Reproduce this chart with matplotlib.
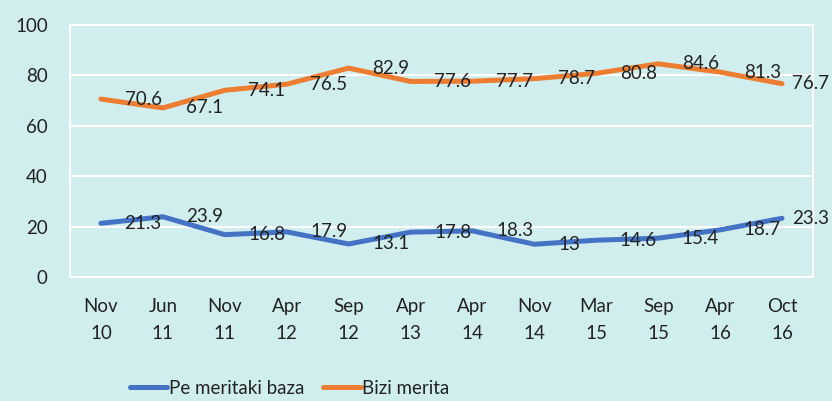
import matplotlib
matplotlib.use("Agg")
import matplotlib.pyplot as plt

categories = ["Nov\n10", "Jun\n11", "Nov\n11", "Apr\n12", "Sep\n12", "Apr\n13", "Apr\n14",
              "Nov\n14", "Mar\n15", "Sep\n15", "Apr\n16", "Oct\n16"]
pe_meritaki = [21.3, 23.9, 16.8, 17.9, 13.1, 17.8, 18.3, 13, 14.6, 15.4, 18.7, 23.3]
bizi_merita = [70.6, 67.1, 74.1, 76.5, 82.9, 77.6, 77.7, 78.7, 80.8, 84.6, 81.3, 76.7]
yticks = [0, 20, 40, 60, 80, 100]

plt.rcParams['font.family'] = ['Lato', 'DejaVu Sans']
bg = '#d1eeee'
blue = '#4472C4'
orange = '#ED7D31'
txt = '#222222'
fs = 13.5

fig = plt.figure(figsize=(8.32, 4.01), dpi=100, facecolor=bg)
ax = fig.add_axes([70/832, 1-277/401, (813-70)/832, (277-25)/401])
ax.set_facecolor(bg)

x = list(range(len(categories)))
l1, = ax.plot(x, pe_meritaki, color=blue, lw=3.6, solid_capstyle='round', label='Pe meritaki baza', zorder=3)
l2, = ax.plot(x, bizi_merita, color=orange, lw=3.6, solid_capstyle='round', label='Bizi merita', zorder=3)

n = len(categories)
for series in (pe_meritaki, bizi_merita):
    for xi, v in zip(x, series):
        off = 7 if xi == n - 1 else 17
        ax.annotate(f"{v:g}", (xi, v), xytext=(off, 0), textcoords='offset points',
                    ha='left', va='center', fontsize=fs, color=txt,
                    annotation_clip=False, zorder=4)

ax.set_xlim(-0.5, n - 0.5)
ax.set_ylim(0, 100)
ax.set_yticks(yticks)
ax.set_yticklabels([str(t) for t in yticks], fontsize=fs, color=txt)
ax.set_xticks(x)
ax.set_xticklabels(categories, fontsize=fs, color=txt, linespacing=1.75)
ax.tick_params(axis='both', length=0)
ax.tick_params(axis='x', pad=15)
ax.tick_params(axis='y', pad=16)
ax.grid(axis='y', color='white', lw=1.5, zorder=1)
for s in ax.spines.values():
    s.set_color('white')
    s.set_linewidth(1.5)

fig.legend(handles=[l1, l2], loc='center left', bbox_to_anchor=(122/832, 1-388/401),
           ncol=2, frameon=False, fontsize=fs, handlelength=2.0, handletextpad=0.1,
           columnspacing=1.0, labelcolor=txt, borderaxespad=0)

fig.savefig("out.png", dpi=100, facecolor=bg)
